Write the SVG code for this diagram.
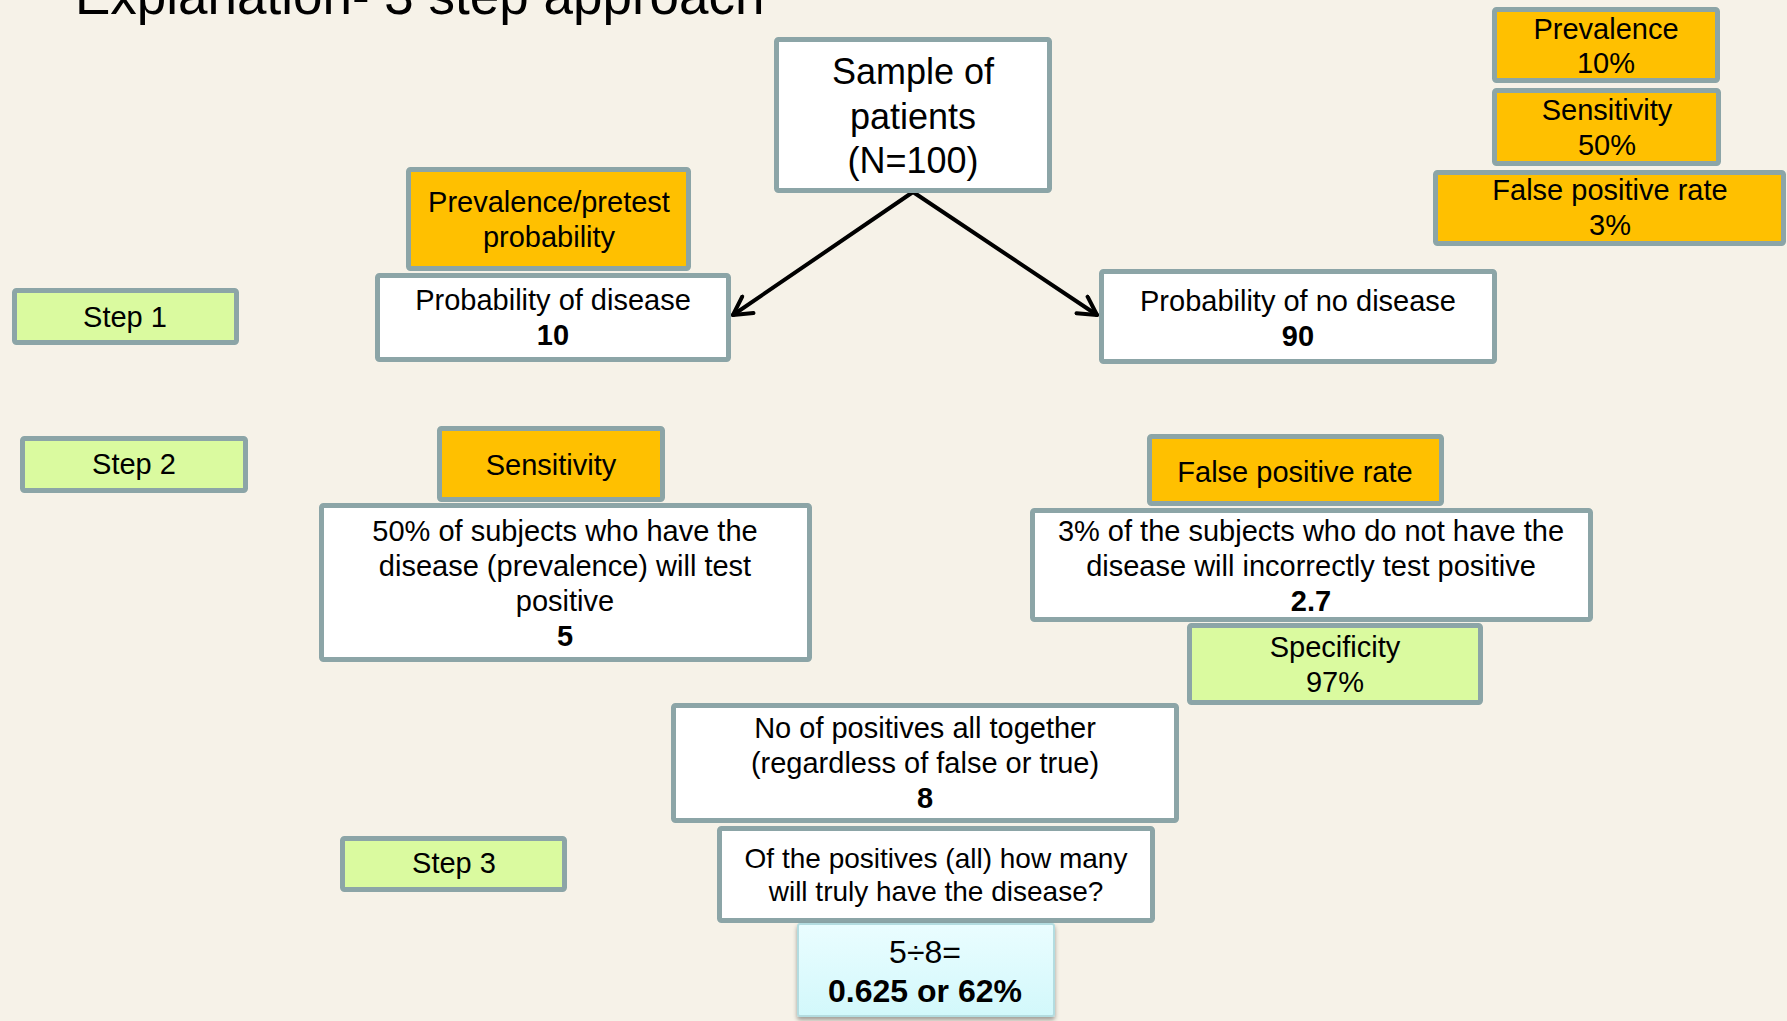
<svg xmlns="http://www.w3.org/2000/svg" width="1787" height="1021" viewBox="0 0 1787 1021">
<defs>
<style>
text{font-family:"Liberation Sans",Arial,sans-serif;font-size:29px;fill:#000;text-anchor:middle}
.b{font-weight:bold}
.box{stroke:#8CA5A7;stroke-width:5}
.w{fill:#FFFFFF}
.o{fill:#FFC000}
.g{fill:#DAFA9F}
.conn{stroke:#000;stroke-width:4;fill:none;stroke-linecap:round}
</style>
<linearGradient id="cy" x1="0" y1="0" x2="0" y2="1">
<stop offset="0" stop-color="#EAFDFF"/>
<stop offset="1" stop-color="#D2F8FB"/>
</linearGradient>
<filter id="sh" x="-10%" y="-10%" width="120%" height="130%">
<feDropShadow dx="0" dy="3" stdDeviation="2" flood-color="#000" flood-opacity="0.35"/>
</filter>
<marker id="arr" viewBox="0 0 24 24" refX="21" refY="12" markerWidth="24" markerHeight="24" orient="auto" markerUnits="userSpaceOnUse">
<path d="M3,2 L21,12 L3,22" fill="none" stroke="#000" stroke-width="4" stroke-linecap="round" stroke-linejoin="round"/>
</marker>
</defs>
<rect x="0" y="0" width="1787" height="1021" fill="#F6F2E8"/>
<text x="75" y="14" style="font-size:53px;text-anchor:start">Explanation- 3 step approach</text>

<g id="legend-prevalence"><rect class="box o" x="1494.5" y="9.5" width="223" height="71" rx="2"/><text x="1606" y="39">Prevalence</text><text x="1606" y="73">10%</text></g>
<g id="legend-sensitivity"><rect class="box o" x="1494.5" y="90.5" width="224" height="73" rx="2"/><text x="1607" y="120">Sensitivity</text><text x="1607" y="155">50%</text></g>
<g id="legend-fpr"><rect class="box o" x="1435.5" y="172.5" width="348" height="71" rx="2"/><text x="1610" y="200">False positive rate</text><text x="1610" y="235">3%</text></g>

<g id="connectors">
<path class="conn" d="M913,192 L733,315" marker-end="url(#arr)"/>
<path class="conn" d="M913,192 L1097,315" marker-end="url(#arr)"/>
</g>

<g id="sample"><rect class="box w" x="776.5" y="39.5" width="273" height="151" rx="2"/><text x="913" y="84" style="font-size:36px">Sample of</text><text x="913" y="129" style="font-size:36px">patients</text><text x="913" y="173" style="font-size:36px">(N=100)</text></g>
<g id="prevalence-pretest"><rect class="box o" x="408.5" y="169.5" width="280" height="99" rx="2"/><text x="549" y="212">Prevalence/pretest</text><text x="549" y="247">probability</text></g>
<g id="prob-disease"><rect class="box w" x="377.5" y="275.5" width="351" height="84" rx="2"/><text x="553" y="310">Probability of disease</text><text class="b" x="553" y="345">10</text></g>
<g id="prob-no-disease"><rect class="box w" x="1101.5" y="271.5" width="393" height="90" rx="2"/><text x="1298" y="311">Probability of no disease</text><text class="b" x="1298" y="346">90</text></g>

<g id="step1"><rect class="box g" x="14.5" y="290.5" width="222" height="52" rx="2"/><text x="125" y="327">Step 1</text></g>
<g id="step2"><rect class="box g" x="22.5" y="438.5" width="223" height="52" rx="2"/><text x="134" y="474">Step 2</text></g>
<g id="step3"><rect class="box g" x="342.5" y="838.5" width="222" height="51" rx="2"/><text x="454" y="873">Step 3</text></g>

<g id="sensitivity"><rect class="box o" x="439.5" y="428.5" width="223" height="71" rx="2"/><text x="551" y="475">Sensitivity</text></g>
<g id="true-positives"><rect class="box w" x="321.5" y="505.5" width="488" height="154" rx="2"/><text x="565" y="541">50% of subjects who have the</text><text x="565" y="576">disease (prevalence) will test</text><text x="565" y="611">positive</text><text class="b" x="565" y="646">5</text></g>

<g id="fpr"><rect class="box o" x="1149.5" y="436.5" width="292" height="67" rx="2"/><text x="1295" y="482">False positive rate</text></g>
<g id="false-positives"><rect class="box w" x="1032.5" y="510.5" width="558" height="109" rx="2"/><text x="1311" y="541">3% of the subjects who do not have the</text><text x="1311" y="576">disease will incorrectly test positive</text><text class="b" x="1311" y="611">2.7</text></g>
<g id="specificity"><rect class="box g" x="1189.5" y="625.5" width="291" height="77" rx="2"/><text x="1335" y="657">Specificity</text><text x="1335" y="692">97%</text></g>

<g id="all-positives"><rect class="box w" x="673.5" y="705.5" width="503" height="115" rx="2"/><text x="925" y="738">No of positives all together</text><text x="925" y="773">(regardless of false or true)</text><text class="b" x="925" y="808">8</text></g>
<g id="question"><rect class="box w" x="719.5" y="828.5" width="433" height="92" rx="2"/><text x="936" y="868" style="font-size:28px">Of the positives (all) how many</text><text x="936" y="901" style="font-size:28px">will truly have the disease?</text></g>
<g id="result"><rect x="798" y="924" width="256" height="92" rx="2" fill="url(#cy)" stroke="#B3DCE0" stroke-width="2" filter="url(#sh)"/><text x="925" y="963" style="font-size:32px">5÷8=</text><text class="b" x="925" y="1002" style="font-size:32px">0.625 or 62%</text></g>
</svg>
